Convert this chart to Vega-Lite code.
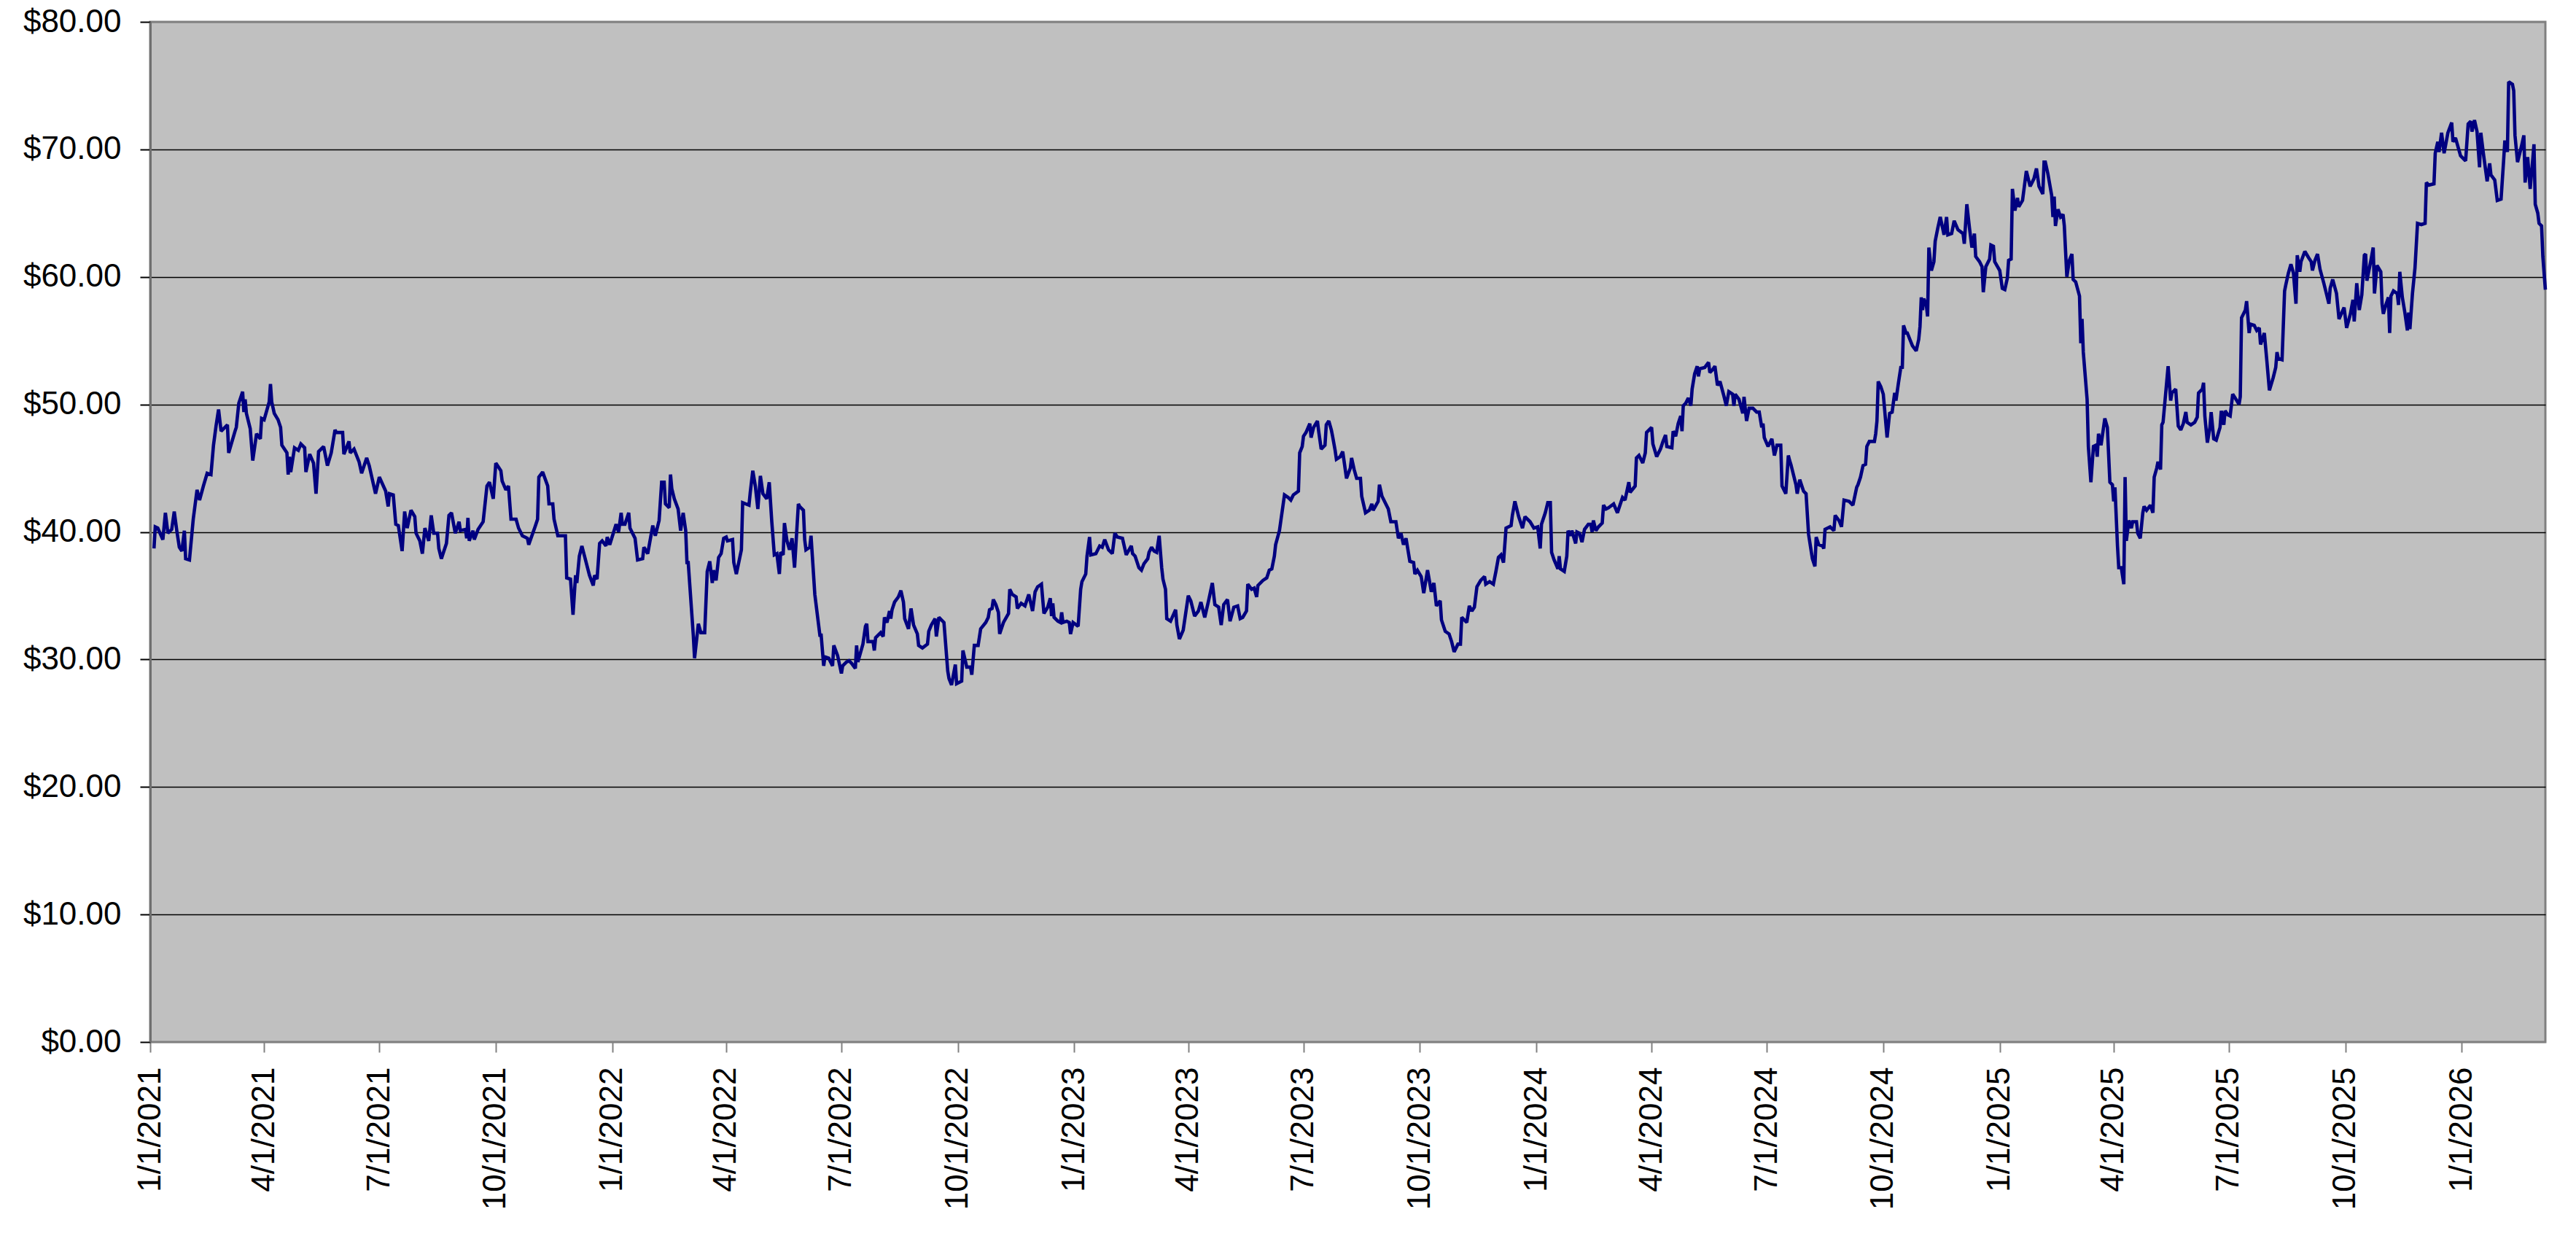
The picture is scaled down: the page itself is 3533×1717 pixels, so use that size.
{
  "$schema": "https://vega.github.io/schema/vega-lite/v6.json",
  "width": 3285,
  "height": 1399,
  "autosize": {"type": "none"},
  "padding": {"left": 206, "top": 30, "right": 42, "bottom": 288},
  "background": "white",
  "config": {
    "font": "Liberation Sans",
    "view": {"fill": "#C0C0C0", "stroke": "#808080", "strokeWidth": 3}
  },
  "data": {
    "values": [
      {"d": "2021-01-04", "v": 38.7}, {"d": "2021-01-05", "v": 40.4}, {"d": "2021-01-07", "v": 40.3}, {"d": "2021-01-11", "v": 39.4},
      {"d": "2021-01-13", "v": 41.5}, {"d": "2021-01-15", "v": 39.9}, {"d": "2021-01-18", "v": 40.2}, {"d": "2021-01-20", "v": 41.6},
      {"d": "2021-01-22", "v": 40.1}, {"d": "2021-01-24", "v": 38.8}, {"d": "2021-01-26", "v": 38.5}, {"d": "2021-01-28", "v": 40.1},
      {"d": "2021-01-29", "v": 37.9}, {"d": "2021-02-01", "v": 37.8}, {"d": "2021-02-04", "v": 41.0}, {"d": "2021-02-07", "v": 43.3},
      {"d": "2021-02-09", "v": 42.5}, {"d": "2021-02-12", "v": 43.6}, {"d": "2021-02-15", "v": 44.6}, {"d": "2021-02-18", "v": 44.5},
      {"d": "2021-02-20", "v": 46.8}, {"d": "2021-02-22", "v": 48.3}, {"d": "2021-02-24", "v": 49.6}, {"d": "2021-02-26", "v": 47.9},
      {"d": "2021-03-03", "v": 48.4}, {"d": "2021-03-04", "v": 46.2}, {"d": "2021-03-09", "v": 47.9}, {"d": "2021-03-10", "v": 48.2},
      {"d": "2021-03-12", "v": 50.1}, {"d": "2021-03-15", "v": 51.0}, {"d": "2021-03-16", "v": 49.4}, {"d": "2021-03-17", "v": 50.4},
      {"d": "2021-03-18", "v": 49.3}, {"d": "2021-03-21", "v": 48.1}, {"d": "2021-03-23", "v": 45.6}, {"d": "2021-03-26", "v": 47.7},
      {"d": "2021-03-29", "v": 47.3}, {"d": "2021-03-30", "v": 48.9}, {"d": "2021-04-01", "v": 48.8}, {"d": "2021-04-05", "v": 50.2},
      {"d": "2021-04-06", "v": 51.6}, {"d": "2021-04-07", "v": 50.2}, {"d": "2021-04-09", "v": 49.3}, {"d": "2021-04-12", "v": 48.8},
      {"d": "2021-04-14", "v": 48.2}, {"d": "2021-04-15", "v": 46.8}, {"d": "2021-04-19", "v": 46.2}, {"d": "2021-04-20", "v": 44.5},
      {"d": "2021-04-21", "v": 45.9}, {"d": "2021-04-22", "v": 44.7}, {"d": "2021-04-25", "v": 46.6}, {"d": "2021-04-28", "v": 46.4},
      {"d": "2021-04-30", "v": 46.9}, {"d": "2021-05-03", "v": 46.6}, {"d": "2021-05-04", "v": 44.7}, {"d": "2021-05-07", "v": 46.1},
      {"d": "2021-05-10", "v": 45.4}, {"d": "2021-05-12", "v": 43.0}, {"d": "2021-05-14", "v": 46.3}, {"d": "2021-05-18", "v": 46.7},
      {"d": "2021-05-21", "v": 45.2}, {"d": "2021-05-24", "v": 46.2}, {"d": "2021-05-27", "v": 48.0}, {"d": "2021-05-28", "v": 47.8},
      {"d": "2021-06-02", "v": 47.8}, {"d": "2021-06-03", "v": 46.1}, {"d": "2021-06-07", "v": 47.1}, {"d": "2021-06-08", "v": 46.2},
      {"d": "2021-06-11", "v": 46.5}, {"d": "2021-06-15", "v": 45.5}, {"d": "2021-06-17", "v": 44.6}, {"d": "2021-06-21", "v": 45.8},
      {"d": "2021-06-23", "v": 45.2}, {"d": "2021-06-28", "v": 43.0}, {"d": "2021-07-01", "v": 44.3}, {"d": "2021-07-06", "v": 43.2},
      {"d": "2021-07-08", "v": 42.0}, {"d": "2021-07-09", "v": 43.0}, {"d": "2021-07-12", "v": 42.9}, {"d": "2021-07-14", "v": 40.6},
      {"d": "2021-07-16", "v": 40.5}, {"d": "2021-07-19", "v": 38.5}, {"d": "2021-07-21", "v": 41.6}, {"d": "2021-07-23", "v": 40.3},
      {"d": "2021-07-26", "v": 41.7}, {"d": "2021-07-29", "v": 41.2}, {"d": "2021-07-30", "v": 39.9}, {"d": "2021-08-02", "v": 39.3},
      {"d": "2021-08-04", "v": 38.3}, {"d": "2021-08-06", "v": 40.3}, {"d": "2021-08-09", "v": 39.3}, {"d": "2021-08-11", "v": 41.3},
      {"d": "2021-08-13", "v": 39.9}, {"d": "2021-08-16", "v": 39.9}, {"d": "2021-08-17", "v": 38.7}, {"d": "2021-08-19", "v": 37.9},
      {"d": "2021-08-23", "v": 39.1}, {"d": "2021-08-25", "v": 41.3}, {"d": "2021-08-27", "v": 41.5}, {"d": "2021-08-30", "v": 39.9},
      {"d": "2021-09-02", "v": 40.8}, {"d": "2021-09-03", "v": 40.1}, {"d": "2021-09-07", "v": 40.2}, {"d": "2021-09-08", "v": 39.5},
      {"d": "2021-09-09", "v": 41.1}, {"d": "2021-09-10", "v": 39.3}, {"d": "2021-09-13", "v": 40.1}, {"d": "2021-09-14", "v": 39.4},
      {"d": "2021-09-17", "v": 40.2}, {"d": "2021-09-21", "v": 40.8}, {"d": "2021-09-24", "v": 43.6}, {"d": "2021-09-26", "v": 43.9},
      {"d": "2021-09-29", "v": 42.6}, {"d": "2021-10-01", "v": 45.4}, {"d": "2021-10-05", "v": 44.8}, {"d": "2021-10-06", "v": 44.0},
      {"d": "2021-10-09", "v": 43.3}, {"d": "2021-10-11", "v": 43.6}, {"d": "2021-10-13", "v": 41.0}, {"d": "2021-10-17", "v": 41.0},
      {"d": "2021-10-19", "v": 40.3}, {"d": "2021-10-22", "v": 39.7}, {"d": "2021-10-26", "v": 39.5}, {"d": "2021-10-27", "v": 39.0},
      {"d": "2021-11-01", "v": 40.4}, {"d": "2021-11-03", "v": 41.0}, {"d": "2021-11-04", "v": 44.3}, {"d": "2021-11-07", "v": 44.7},
      {"d": "2021-11-11", "v": 43.6}, {"d": "2021-11-12", "v": 42.2}, {"d": "2021-11-15", "v": 42.2}, {"d": "2021-11-16", "v": 41.0},
      {"d": "2021-11-19", "v": 39.7}, {"d": "2021-11-23", "v": 39.7}, {"d": "2021-11-25", "v": 39.7}, {"d": "2021-11-26", "v": 36.4},
      {"d": "2021-11-29", "v": 36.3}, {"d": "2021-12-01", "v": 33.5}, {"d": "2021-12-03", "v": 36.6}, {"d": "2021-12-04", "v": 36.0},
      {"d": "2021-12-06", "v": 38.1}, {"d": "2021-12-08", "v": 38.9}, {"d": "2021-12-14", "v": 36.6}, {"d": "2021-12-17", "v": 35.8},
      {"d": "2021-12-18", "v": 36.6}, {"d": "2021-12-20", "v": 36.3}, {"d": "2021-12-22", "v": 39.1}, {"d": "2021-12-24", "v": 39.3},
      {"d": "2021-12-27", "v": 38.9}, {"d": "2021-12-28", "v": 39.6}, {"d": "2021-12-30", "v": 39.0},
      {"d": "2022-01-04", "v": 40.6}, {"d": "2022-01-06", "v": 40.0}, {"d": "2022-01-08", "v": 41.5}, {"d": "2022-01-09", "v": 40.6},
      {"d": "2022-01-11", "v": 40.6}, {"d": "2022-01-14", "v": 41.5}, {"d": "2022-01-15", "v": 40.3}, {"d": "2022-01-19", "v": 39.5},
      {"d": "2022-01-21", "v": 37.8}, {"d": "2022-01-25", "v": 37.9}, {"d": "2022-01-26", "v": 38.8}, {"d": "2022-01-29", "v": 38.3},
      {"d": "2022-02-02", "v": 40.5}, {"d": "2022-02-04", "v": 39.7}, {"d": "2022-02-07", "v": 40.9}, {"d": "2022-02-09", "v": 43.9},
      {"d": "2022-02-11", "v": 43.9}, {"d": "2022-02-12", "v": 42.2}, {"d": "2022-02-15", "v": 41.9}, {"d": "2022-02-16", "v": 44.5},
      {"d": "2022-02-17", "v": 43.4}, {"d": "2022-02-19", "v": 42.6}, {"d": "2022-02-22", "v": 41.8}, {"d": "2022-02-24", "v": 40.1},
      {"d": "2022-02-26", "v": 41.5}, {"d": "2022-02-28", "v": 40.1}, {"d": "2022-03-01", "v": 37.6}, {"d": "2022-03-02", "v": 37.6},
      {"d": "2022-03-06", "v": 31.9}, {"d": "2022-03-07", "v": 30.1}, {"d": "2022-03-10", "v": 32.8}, {"d": "2022-03-12", "v": 32.1},
      {"d": "2022-03-15", "v": 32.1}, {"d": "2022-03-17", "v": 36.9}, {"d": "2022-03-19", "v": 37.7}, {"d": "2022-03-21", "v": 36.0},
      {"d": "2022-03-22", "v": 37.0}, {"d": "2022-03-24", "v": 36.2}, {"d": "2022-03-26", "v": 38.0}, {"d": "2022-03-28", "v": 38.3},
      {"d": "2022-03-30", "v": 39.5}, {"d": "2022-04-01", "v": 39.6}, {"d": "2022-04-02", "v": 39.3}, {"d": "2022-04-06", "v": 39.4},
      {"d": "2022-04-07", "v": 37.6}, {"d": "2022-04-09", "v": 36.7}, {"d": "2022-04-13", "v": 38.6}, {"d": "2022-04-14", "v": 42.3},
      {"d": "2022-04-19", "v": 42.1}, {"d": "2022-04-20", "v": 43.1}, {"d": "2022-04-22", "v": 44.8}, {"d": "2022-04-24", "v": 43.6},
      {"d": "2022-04-26", "v": 41.8}, {"d": "2022-04-28", "v": 44.4}, {"d": "2022-04-30", "v": 43.0}, {"d": "2022-05-03", "v": 42.6},
      {"d": "2022-05-05", "v": 43.9}, {"d": "2022-05-07", "v": 40.8}, {"d": "2022-05-09", "v": 38.2}, {"d": "2022-05-11", "v": 38.3},
      {"d": "2022-05-13", "v": 36.7}, {"d": "2022-05-14", "v": 38.4}, {"d": "2022-05-16", "v": 38.2}, {"d": "2022-05-17", "v": 40.7},
      {"d": "2022-05-19", "v": 39.3}, {"d": "2022-05-21", "v": 38.6}, {"d": "2022-05-23", "v": 39.5}, {"d": "2022-05-25", "v": 37.2},
      {"d": "2022-05-28", "v": 42.2}, {"d": "2022-05-29", "v": 42.0}, {"d": "2022-06-01", "v": 41.7}, {"d": "2022-06-02", "v": 39.4},
      {"d": "2022-06-03", "v": 38.6}, {"d": "2022-06-06", "v": 38.8}, {"d": "2022-06-07", "v": 39.7}, {"d": "2022-06-10", "v": 35.1},
      {"d": "2022-06-14", "v": 31.9}, {"d": "2022-06-15", "v": 31.9}, {"d": "2022-06-17", "v": 29.5}, {"d": "2022-06-18", "v": 30.2},
      {"d": "2022-06-21", "v": 30.1}, {"d": "2022-06-24", "v": 29.5}, {"d": "2022-06-25", "v": 31.1}, {"d": "2022-06-28", "v": 30.3},
      {"d": "2022-07-01", "v": 28.9}, {"d": "2022-07-02", "v": 29.5}, {"d": "2022-07-05", "v": 29.8}, {"d": "2022-07-07", "v": 29.9},
      {"d": "2022-07-09", "v": 29.7}, {"d": "2022-07-12", "v": 29.3}, {"d": "2022-07-13", "v": 31.1}, {"d": "2022-07-14", "v": 29.8},
      {"d": "2022-07-18", "v": 31.2}, {"d": "2022-07-20", "v": 32.6}, {"d": "2022-07-21", "v": 32.8}, {"d": "2022-07-22", "v": 31.4},
      {"d": "2022-07-26", "v": 31.4}, {"d": "2022-07-27", "v": 30.7}, {"d": "2022-07-28", "v": 31.7}, {"d": "2022-08-01", "v": 32.1},
      {"d": "2022-08-03", "v": 31.8}, {"d": "2022-08-04", "v": 33.3}, {"d": "2022-08-06", "v": 32.9}, {"d": "2022-08-08", "v": 33.8},
      {"d": "2022-08-09", "v": 33.2}, {"d": "2022-08-10", "v": 33.9}, {"d": "2022-08-12", "v": 34.5}, {"d": "2022-08-15", "v": 34.9},
      {"d": "2022-08-17", "v": 35.4}, {"d": "2022-08-19", "v": 34.5}, {"d": "2022-08-20", "v": 33.2}, {"d": "2022-08-23", "v": 32.4},
      {"d": "2022-08-25", "v": 34.0}, {"d": "2022-08-27", "v": 32.7}, {"d": "2022-08-30", "v": 32.0}, {"d": "2022-08-31", "v": 31.1},
      {"d": "2022-09-03", "v": 30.9}, {"d": "2022-09-07", "v": 31.2}, {"d": "2022-09-08", "v": 32.2}, {"d": "2022-09-10", "v": 32.7},
      {"d": "2022-09-13", "v": 33.2}, {"d": "2022-09-14", "v": 31.8}, {"d": "2022-09-16", "v": 33.3}, {"d": "2022-09-20", "v": 32.9},
      {"d": "2022-09-23", "v": 29.1}, {"d": "2022-09-24", "v": 28.5}, {"d": "2022-09-26", "v": 28.0}, {"d": "2022-09-29", "v": 29.6},
      {"d": "2022-09-30", "v": 28.1}, {"d": "2022-10-04", "v": 28.3}, {"d": "2022-10-05", "v": 30.7}, {"d": "2022-10-08", "v": 29.4},
      {"d": "2022-10-11", "v": 29.4}, {"d": "2022-10-12", "v": 28.8}, {"d": "2022-10-14", "v": 31.1}, {"d": "2022-10-17", "v": 31.1},
      {"d": "2022-10-19", "v": 32.4}, {"d": "2022-10-23", "v": 32.9}, {"d": "2022-10-25", "v": 33.3}, {"d": "2022-10-26", "v": 33.9},
      {"d": "2022-10-28", "v": 34.0}, {"d": "2022-10-29", "v": 34.7}, {"d": "2022-10-31", "v": 34.3}, {"d": "2022-11-02", "v": 33.7},
      {"d": "2022-11-03", "v": 32.0}, {"d": "2022-11-06", "v": 32.9}, {"d": "2022-11-10", "v": 33.6}, {"d": "2022-11-11", "v": 35.5},
      {"d": "2022-11-13", "v": 35.1}, {"d": "2022-11-16", "v": 34.9}, {"d": "2022-11-17", "v": 34.0}, {"d": "2022-11-20", "v": 34.4},
      {"d": "2022-11-23", "v": 34.2}, {"d": "2022-11-26", "v": 35.1}, {"d": "2022-11-29", "v": 33.8}, {"d": "2022-12-01", "v": 35.3},
      {"d": "2022-12-03", "v": 35.7}, {"d": "2022-12-06", "v": 35.9}, {"d": "2022-12-08", "v": 33.6}, {"d": "2022-12-11", "v": 34.1},
      {"d": "2022-12-13", "v": 34.8}, {"d": "2022-12-14", "v": 33.4}, {"d": "2022-12-15", "v": 34.4}, {"d": "2022-12-16", "v": 33.3},
      {"d": "2022-12-19", "v": 33.0}, {"d": "2022-12-21", "v": 32.9}, {"d": "2022-12-22", "v": 33.7}, {"d": "2022-12-23", "v": 32.9},
      {"d": "2022-12-26", "v": 33.0}, {"d": "2022-12-28", "v": 32.9}, {"d": "2022-12-29", "v": 32.0}, {"d": "2022-12-31", "v": 32.9},
      {"d": "2023-01-04", "v": 32.6}, {"d": "2023-01-06", "v": 35.5}, {"d": "2023-01-07", "v": 36.1}, {"d": "2023-01-10", "v": 36.7},
      {"d": "2023-01-11", "v": 38.1}, {"d": "2023-01-13", "v": 39.6}, {"d": "2023-01-14", "v": 38.2}, {"d": "2023-01-18", "v": 38.3},
      {"d": "2023-01-21", "v": 38.9}, {"d": "2023-01-23", "v": 38.8}, {"d": "2023-01-25", "v": 39.4}, {"d": "2023-01-28", "v": 38.6},
      {"d": "2023-01-31", "v": 38.3}, {"d": "2023-02-02", "v": 39.9}, {"d": "2023-02-04", "v": 39.6}, {"d": "2023-02-08", "v": 39.5},
      {"d": "2023-02-11", "v": 38.2}, {"d": "2023-02-15", "v": 38.9}, {"d": "2023-02-16", "v": 38.3}, {"d": "2023-02-18", "v": 38.1},
      {"d": "2023-02-21", "v": 37.2}, {"d": "2023-02-23", "v": 37.0}, {"d": "2023-02-25", "v": 37.5}, {"d": "2023-02-28", "v": 37.9},
      {"d": "2023-03-01", "v": 38.4}, {"d": "2023-03-03", "v": 38.8}, {"d": "2023-03-05", "v": 38.5}, {"d": "2023-03-07", "v": 38.4},
      {"d": "2023-03-09", "v": 39.7}, {"d": "2023-03-11", "v": 37.2}, {"d": "2023-03-12", "v": 36.3}, {"d": "2023-03-14", "v": 35.5},
      {"d": "2023-03-15", "v": 33.2}, {"d": "2023-03-18", "v": 33.0}, {"d": "2023-03-22", "v": 33.9}, {"d": "2023-03-23", "v": 32.7},
      {"d": "2023-03-25", "v": 31.6}, {"d": "2023-03-28", "v": 32.3}, {"d": "2023-04-01", "v": 35.0}, {"d": "2023-04-03", "v": 34.6},
      {"d": "2023-04-06", "v": 33.4}, {"d": "2023-04-09", "v": 33.8}, {"d": "2023-04-11", "v": 34.5}, {"d": "2023-04-14", "v": 33.3},
      {"d": "2023-04-17", "v": 34.6}, {"d": "2023-04-20", "v": 36.0}, {"d": "2023-04-22", "v": 34.3}, {"d": "2023-04-25", "v": 34.1},
      {"d": "2023-04-27", "v": 32.7}, {"d": "2023-04-29", "v": 34.3}, {"d": "2023-05-02", "v": 34.7}, {"d": "2023-05-04", "v": 33.0},
      {"d": "2023-05-07", "v": 34.1}, {"d": "2023-05-10", "v": 34.2}, {"d": "2023-05-12", "v": 33.2}, {"d": "2023-05-14", "v": 33.3},
      {"d": "2023-05-17", "v": 33.8}, {"d": "2023-05-18", "v": 35.9}, {"d": "2023-05-21", "v": 35.5}, {"d": "2023-05-23", "v": 35.6},
      {"d": "2023-05-25", "v": 34.9}, {"d": "2023-05-26", "v": 35.8}, {"d": "2023-05-30", "v": 36.2}, {"d": "2023-06-02", "v": 36.4},
      {"d": "2023-06-04", "v": 37.0}, {"d": "2023-06-06", "v": 37.1}, {"d": "2023-06-08", "v": 38.1}, {"d": "2023-06-09", "v": 39.0},
      {"d": "2023-06-12", "v": 40.1}, {"d": "2023-06-14", "v": 41.5}, {"d": "2023-06-16", "v": 42.9}, {"d": "2023-06-19", "v": 42.7},
      {"d": "2023-06-21", "v": 42.5}, {"d": "2023-06-23", "v": 42.9}, {"d": "2023-06-27", "v": 43.2}, {"d": "2023-06-28", "v": 46.2},
      {"d": "2023-06-30", "v": 46.7}, {"d": "2023-07-01", "v": 47.5}, {"d": "2023-07-03", "v": 47.8}, {"d": "2023-07-06", "v": 48.5},
      {"d": "2023-07-07", "v": 47.4}, {"d": "2023-07-09", "v": 48.2}, {"d": "2023-07-12", "v": 48.7}, {"d": "2023-07-13", "v": 47.9},
      {"d": "2023-07-15", "v": 46.5}, {"d": "2023-07-18", "v": 46.8}, {"d": "2023-07-19", "v": 48.4}, {"d": "2023-07-21", "v": 48.7},
      {"d": "2023-07-23", "v": 48.0}, {"d": "2023-07-24", "v": 47.5}, {"d": "2023-07-26", "v": 46.4}, {"d": "2023-07-27", "v": 45.7},
      {"d": "2023-07-30", "v": 45.9}, {"d": "2023-08-01", "v": 46.3}, {"d": "2023-08-04", "v": 44.2}, {"d": "2023-08-07", "v": 45.0},
      {"d": "2023-08-08", "v": 45.8}, {"d": "2023-08-10", "v": 44.9}, {"d": "2023-08-12", "v": 44.2}, {"d": "2023-08-15", "v": 44.2},
      {"d": "2023-08-16", "v": 42.8}, {"d": "2023-08-19", "v": 41.5}, {"d": "2023-08-22", "v": 41.7}, {"d": "2023-08-24", "v": 42.2},
      {"d": "2023-08-25", "v": 41.7}, {"d": "2023-08-29", "v": 42.4}, {"d": "2023-08-30", "v": 43.7}, {"d": "2023-09-01", "v": 42.8},
      {"d": "2023-09-06", "v": 41.8}, {"d": "2023-09-08", "v": 40.8}, {"d": "2023-09-12", "v": 40.8}, {"d": "2023-09-14", "v": 39.5},
      {"d": "2023-09-16", "v": 39.9}, {"d": "2023-09-18", "v": 39.0}, {"d": "2023-09-20", "v": 39.5}, {"d": "2023-09-23", "v": 37.7},
      {"d": "2023-09-26", "v": 37.6}, {"d": "2023-09-27", "v": 36.7}, {"d": "2023-09-29", "v": 37.0}, {"d": "2023-10-02", "v": 36.5},
      {"d": "2023-10-04", "v": 35.2}, {"d": "2023-10-07", "v": 37.0}, {"d": "2023-10-10", "v": 35.3}, {"d": "2023-10-12", "v": 36.0},
      {"d": "2023-10-14", "v": 34.2}, {"d": "2023-10-17", "v": 34.6}, {"d": "2023-10-18", "v": 33.1}, {"d": "2023-10-21", "v": 32.2},
      {"d": "2023-10-24", "v": 32.0}, {"d": "2023-10-26", "v": 31.4}, {"d": "2023-10-28", "v": 30.6}, {"d": "2023-10-31", "v": 31.2},
      {"d": "2023-11-02", "v": 31.2}, {"d": "2023-11-03", "v": 33.3}, {"d": "2023-11-05", "v": 33.1}, {"d": "2023-11-07", "v": 32.9},
      {"d": "2023-11-09", "v": 34.2}, {"d": "2023-11-11", "v": 33.8}, {"d": "2023-11-13", "v": 34.1}, {"d": "2023-11-15", "v": 35.7},
      {"d": "2023-11-18", "v": 36.2}, {"d": "2023-11-21", "v": 36.5}, {"d": "2023-11-22", "v": 35.9}, {"d": "2023-11-25", "v": 36.1},
      {"d": "2023-11-28", "v": 35.9}, {"d": "2023-11-30", "v": 36.9}, {"d": "2023-12-02", "v": 38.0}, {"d": "2023-12-04", "v": 38.2},
      {"d": "2023-12-06", "v": 37.6}, {"d": "2023-12-08", "v": 40.3}, {"d": "2023-12-12", "v": 40.5}, {"d": "2023-12-13", "v": 41.3},
      {"d": "2023-12-15", "v": 42.4}, {"d": "2023-12-18", "v": 41.2}, {"d": "2023-12-21", "v": 40.3}, {"d": "2023-12-23", "v": 41.2},
      {"d": "2023-12-27", "v": 40.8}, {"d": "2023-12-30", "v": 40.3},
      {"d": "2024-01-02", "v": 40.4}, {"d": "2024-01-04", "v": 38.7}, {"d": "2024-01-05", "v": 40.6}, {"d": "2024-01-08", "v": 41.5},
      {"d": "2024-01-10", "v": 42.3}, {"d": "2024-01-12", "v": 42.3}, {"d": "2024-01-13", "v": 38.4}, {"d": "2024-01-15", "v": 37.8},
      {"d": "2024-01-18", "v": 37.1}, {"d": "2024-01-19", "v": 38.1}, {"d": "2024-01-20", "v": 37.1}, {"d": "2024-01-23", "v": 36.9},
      {"d": "2024-01-25", "v": 38.1}, {"d": "2024-01-26", "v": 40.1}, {"d": "2024-01-28", "v": 39.7}, {"d": "2024-01-29", "v": 40.1},
      {"d": "2024-02-01", "v": 39.1}, {"d": "2024-02-02", "v": 40.0}, {"d": "2024-02-04", "v": 39.9}, {"d": "2024-02-06", "v": 39.2},
      {"d": "2024-02-08", "v": 40.2}, {"d": "2024-02-11", "v": 40.6}, {"d": "2024-02-13", "v": 40.6}, {"d": "2024-02-14", "v": 40.0},
      {"d": "2024-02-15", "v": 40.9}, {"d": "2024-02-17", "v": 40.1}, {"d": "2024-02-19", "v": 40.4}, {"d": "2024-02-22", "v": 40.7},
      {"d": "2024-02-23", "v": 42.1}, {"d": "2024-02-25", "v": 41.8}, {"d": "2024-02-27", "v": 41.9}, {"d": "2024-03-02", "v": 42.2},
      {"d": "2024-03-05", "v": 41.5}, {"d": "2024-03-09", "v": 42.7}, {"d": "2024-03-11", "v": 42.5}, {"d": "2024-03-14", "v": 43.9},
      {"d": "2024-03-15", "v": 43.1}, {"d": "2024-03-19", "v": 43.6}, {"d": "2024-03-20", "v": 45.8}, {"d": "2024-03-22", "v": 46.0},
      {"d": "2024-03-25", "v": 45.4}, {"d": "2024-03-27", "v": 46.2}, {"d": "2024-03-28", "v": 47.8}, {"d": "2024-04-01", "v": 48.2},
      {"d": "2024-04-02", "v": 46.9}, {"d": "2024-04-05", "v": 45.9}, {"d": "2024-04-08", "v": 46.5}, {"d": "2024-04-10", "v": 47.1},
      {"d": "2024-04-12", "v": 47.6}, {"d": "2024-04-13", "v": 46.7}, {"d": "2024-04-17", "v": 46.6}, {"d": "2024-04-18", "v": 47.9},
      {"d": "2024-04-20", "v": 47.5}, {"d": "2024-04-22", "v": 48.5}, {"d": "2024-04-24", "v": 49.1}, {"d": "2024-04-25", "v": 47.9},
      {"d": "2024-04-26", "v": 49.9}, {"d": "2024-04-28", "v": 50.1}, {"d": "2024-04-30", "v": 50.5}, {"d": "2024-05-02", "v": 49.9},
      {"d": "2024-05-03", "v": 51.2}, {"d": "2024-05-05", "v": 52.4}, {"d": "2024-05-07", "v": 53.0}, {"d": "2024-05-08", "v": 52.2},
      {"d": "2024-05-09", "v": 52.8}, {"d": "2024-05-13", "v": 52.9}, {"d": "2024-05-16", "v": 53.3}, {"d": "2024-05-17", "v": 52.5},
      {"d": "2024-05-19", "v": 52.7}, {"d": "2024-05-21", "v": 53.0}, {"d": "2024-05-23", "v": 51.5}, {"d": "2024-05-25", "v": 51.8},
      {"d": "2024-05-28", "v": 50.7}, {"d": "2024-05-30", "v": 49.9}, {"d": "2024-06-01", "v": 51.0}, {"d": "2024-06-04", "v": 50.8},
      {"d": "2024-06-05", "v": 49.9}, {"d": "2024-06-06", "v": 50.8}, {"d": "2024-06-09", "v": 50.4}, {"d": "2024-06-12", "v": 49.3},
      {"d": "2024-06-13", "v": 50.6}, {"d": "2024-06-15", "v": 48.7}, {"d": "2024-06-17", "v": 49.7}, {"d": "2024-06-20", "v": 49.7},
      {"d": "2024-06-23", "v": 49.4}, {"d": "2024-06-25", "v": 49.4}, {"d": "2024-06-27", "v": 48.2}, {"d": "2024-06-28", "v": 48.5},
      {"d": "2024-06-29", "v": 47.4}, {"d": "2024-07-02", "v": 46.7}, {"d": "2024-07-05", "v": 47.3}, {"d": "2024-07-07", "v": 46.0},
      {"d": "2024-07-09", "v": 46.8}, {"d": "2024-07-12", "v": 46.8}, {"d": "2024-07-13", "v": 43.6}, {"d": "2024-07-16", "v": 43.0},
      {"d": "2024-07-18", "v": 46.0}, {"d": "2024-07-19", "v": 45.6}, {"d": "2024-07-20", "v": 45.3}, {"d": "2024-07-24", "v": 43.7},
      {"d": "2024-07-25", "v": 43.0}, {"d": "2024-07-27", "v": 44.1}, {"d": "2024-07-30", "v": 43.2}, {"d": "2024-08-01", "v": 43.0},
      {"d": "2024-08-03", "v": 39.8}, {"d": "2024-08-06", "v": 37.9}, {"d": "2024-08-08", "v": 37.3}, {"d": "2024-08-09", "v": 39.6},
      {"d": "2024-08-11", "v": 39.0}, {"d": "2024-08-14", "v": 38.9}, {"d": "2024-08-15", "v": 38.7}, {"d": "2024-08-16", "v": 40.2},
      {"d": "2024-08-20", "v": 40.4}, {"d": "2024-08-23", "v": 40.1}, {"d": "2024-08-24", "v": 41.3}, {"d": "2024-08-27", "v": 40.9},
      {"d": "2024-08-29", "v": 40.4}, {"d": "2024-08-31", "v": 42.5}, {"d": "2024-09-04", "v": 42.4}, {"d": "2024-09-07", "v": 42.1},
      {"d": "2024-09-10", "v": 43.5}, {"d": "2024-09-11", "v": 43.7}, {"d": "2024-09-13", "v": 44.3}, {"d": "2024-09-15", "v": 45.2},
      {"d": "2024-09-17", "v": 45.3}, {"d": "2024-09-18", "v": 46.7}, {"d": "2024-09-20", "v": 47.1}, {"d": "2024-09-24", "v": 47.1},
      {"d": "2024-09-25", "v": 47.7}, {"d": "2024-09-26", "v": 48.7}, {"d": "2024-09-27", "v": 51.8}, {"d": "2024-09-29", "v": 51.4},
      {"d": "2024-10-01", "v": 50.8}, {"d": "2024-10-04", "v": 47.4}, {"d": "2024-10-06", "v": 49.3}, {"d": "2024-10-08", "v": 49.4},
      {"d": "2024-10-10", "v": 50.9}, {"d": "2024-10-11", "v": 50.3}, {"d": "2024-10-13", "v": 51.7}, {"d": "2024-10-15", "v": 53.0},
      {"d": "2024-10-16", "v": 52.8}, {"d": "2024-10-17", "v": 56.2}, {"d": "2024-10-19", "v": 55.6}, {"d": "2024-10-20", "v": 55.6},
      {"d": "2024-10-24", "v": 54.6}, {"d": "2024-10-27", "v": 54.2}, {"d": "2024-10-29", "v": 55.1}, {"d": "2024-10-30", "v": 56.1},
      {"d": "2024-10-31", "v": 58.4}, {"d": "2024-11-01", "v": 57.4}, {"d": "2024-11-02", "v": 58.3}, {"d": "2024-11-04", "v": 57.8},
      {"d": "2024-11-05", "v": 56.9}, {"d": "2024-11-06", "v": 62.3}, {"d": "2024-11-08", "v": 60.5}, {"d": "2024-11-10", "v": 61.2},
      {"d": "2024-11-11", "v": 62.8}, {"d": "2024-11-13", "v": 63.8}, {"d": "2024-11-15", "v": 64.7}, {"d": "2024-11-18", "v": 63.3},
      {"d": "2024-11-20", "v": 64.7}, {"d": "2024-11-21", "v": 63.3}, {"d": "2024-11-24", "v": 63.4}, {"d": "2024-11-26", "v": 64.4},
      {"d": "2024-11-29", "v": 63.7}, {"d": "2024-12-03", "v": 63.4}, {"d": "2024-12-04", "v": 62.6}, {"d": "2024-12-06", "v": 65.7},
      {"d": "2024-12-08", "v": 63.9}, {"d": "2024-12-10", "v": 62.3}, {"d": "2024-12-12", "v": 63.4}, {"d": "2024-12-13", "v": 61.6},
      {"d": "2024-12-16", "v": 61.2}, {"d": "2024-12-18", "v": 60.8}, {"d": "2024-12-19", "v": 58.8}, {"d": "2024-12-21", "v": 60.8},
      {"d": "2024-12-24", "v": 61.4}, {"d": "2024-12-25", "v": 62.5}, {"d": "2024-12-27", "v": 62.4}, {"d": "2024-12-28", "v": 61.2},
      {"d": "2025-01-01", "v": 60.5}, {"d": "2025-01-03", "v": 59.1}, {"d": "2025-01-05", "v": 59.0}, {"d": "2025-01-07", "v": 59.9},
      {"d": "2025-01-08", "v": 61.3}, {"d": "2025-01-10", "v": 61.4}, {"d": "2025-01-11", "v": 66.9}, {"d": "2025-01-13", "v": 65.2},
      {"d": "2025-01-15", "v": 66.2}, {"d": "2025-01-16", "v": 65.5}, {"d": "2025-01-19", "v": 66.0}, {"d": "2025-01-22", "v": 68.3},
      {"d": "2025-01-25", "v": 67.1}, {"d": "2025-01-28", "v": 67.7}, {"d": "2025-01-30", "v": 68.5}, {"d": "2025-02-01", "v": 67.1},
      {"d": "2025-02-04", "v": 66.5}, {"d": "2025-02-05", "v": 69.0}, {"d": "2025-02-06", "v": 69.0}, {"d": "2025-02-08", "v": 68.1},
      {"d": "2025-02-11", "v": 66.4}, {"d": "2025-02-12", "v": 64.7}, {"d": "2025-02-13", "v": 66.3}, {"d": "2025-02-14", "v": 64.0},
      {"d": "2025-02-16", "v": 65.3}, {"d": "2025-02-18", "v": 64.7}, {"d": "2025-02-20", "v": 64.9}, {"d": "2025-02-21", "v": 64.0},
      {"d": "2025-02-23", "v": 60.0}, {"d": "2025-02-25", "v": 61.3}, {"d": "2025-02-27", "v": 61.8}, {"d": "2025-02-28", "v": 59.8},
      {"d": "2025-03-02", "v": 59.6}, {"d": "2025-03-05", "v": 58.5}, {"d": "2025-03-06", "v": 54.8}, {"d": "2025-03-07", "v": 56.7},
      {"d": "2025-03-08", "v": 54.1}, {"d": "2025-03-11", "v": 50.4}, {"d": "2025-03-12", "v": 46.7}, {"d": "2025-03-14", "v": 43.9},
      {"d": "2025-03-16", "v": 46.7}, {"d": "2025-03-18", "v": 46.8}, {"d": "2025-03-19", "v": 45.9}, {"d": "2025-03-20", "v": 47.7},
      {"d": "2025-03-22", "v": 46.8}, {"d": "2025-03-25", "v": 48.9}, {"d": "2025-03-27", "v": 48.2}, {"d": "2025-03-29", "v": 43.9},
      {"d": "2025-03-31", "v": 43.7}, {"d": "2025-04-01", "v": 42.4}, {"d": "2025-04-02", "v": 43.5}, {"d": "2025-04-04", "v": 38.9},
      {"d": "2025-04-05", "v": 37.2}, {"d": "2025-04-07", "v": 37.2}, {"d": "2025-04-09", "v": 35.9}, {"d": "2025-04-10", "v": 44.3},
      {"d": "2025-04-11", "v": 39.3}, {"d": "2025-04-13", "v": 40.9}, {"d": "2025-04-15", "v": 40.3}, {"d": "2025-04-16", "v": 40.8},
      {"d": "2025-04-19", "v": 40.8}, {"d": "2025-04-20", "v": 39.9}, {"d": "2025-04-22", "v": 39.5}, {"d": "2025-04-24", "v": 41.5},
      {"d": "2025-04-25", "v": 42.0}, {"d": "2025-04-27", "v": 41.7}, {"d": "2025-04-30", "v": 42.1}, {"d": "2025-05-02", "v": 41.5},
      {"d": "2025-05-03", "v": 44.3}, {"d": "2025-05-05", "v": 45.0}, {"d": "2025-05-06", "v": 45.5}, {"d": "2025-05-08", "v": 44.9},
      {"d": "2025-05-09", "v": 48.4}, {"d": "2025-05-10", "v": 48.6}, {"d": "2025-05-12", "v": 50.8}, {"d": "2025-05-14", "v": 53.0},
      {"d": "2025-05-16", "v": 50.3}, {"d": "2025-05-17", "v": 50.9}, {"d": "2025-05-20", "v": 51.2}, {"d": "2025-05-22", "v": 48.3},
      {"d": "2025-05-24", "v": 48.0}, {"d": "2025-05-26", "v": 48.5}, {"d": "2025-05-28", "v": 49.4}, {"d": "2025-05-29", "v": 48.6},
      {"d": "2025-06-01", "v": 48.4}, {"d": "2025-06-04", "v": 48.6}, {"d": "2025-06-06", "v": 49.0}, {"d": "2025-06-07", "v": 50.9},
      {"d": "2025-06-10", "v": 51.2}, {"d": "2025-06-11", "v": 51.7}, {"d": "2025-06-12", "v": 49.1}, {"d": "2025-06-14", "v": 47.0},
      {"d": "2025-06-16", "v": 48.2}, {"d": "2025-06-17", "v": 49.4}, {"d": "2025-06-19", "v": 47.3}, {"d": "2025-06-21", "v": 47.2},
      {"d": "2025-06-24", "v": 48.2}, {"d": "2025-06-25", "v": 49.5}, {"d": "2025-06-27", "v": 48.4}, {"d": "2025-06-28", "v": 49.5},
      {"d": "2025-06-30", "v": 49.2}, {"d": "2025-07-02", "v": 49.1}, {"d": "2025-07-04", "v": 50.8}, {"d": "2025-07-06", "v": 50.5},
      {"d": "2025-07-09", "v": 50.0}, {"d": "2025-07-10", "v": 50.6}, {"d": "2025-07-11", "v": 56.8}, {"d": "2025-07-14", "v": 57.4},
      {"d": "2025-07-15", "v": 58.1}, {"d": "2025-07-17", "v": 55.6}, {"d": "2025-07-18", "v": 56.3}, {"d": "2025-07-21", "v": 56.2},
      {"d": "2025-07-23", "v": 55.8}, {"d": "2025-07-25", "v": 56.0}, {"d": "2025-07-26", "v": 54.7}, {"d": "2025-07-29", "v": 55.6},
      {"d": "2025-07-30", "v": 54.5}, {"d": "2025-07-31", "v": 53.4}, {"d": "2025-08-02", "v": 51.1}, {"d": "2025-08-05", "v": 52.1},
      {"d": "2025-08-07", "v": 52.9}, {"d": "2025-08-08", "v": 54.1}, {"d": "2025-08-09", "v": 53.6}, {"d": "2025-08-12", "v": 53.5},
      {"d": "2025-08-14", "v": 58.9}, {"d": "2025-08-15", "v": 59.4}, {"d": "2025-08-17", "v": 60.3}, {"d": "2025-08-19", "v": 61.0},
      {"d": "2025-08-21", "v": 60.3}, {"d": "2025-08-23", "v": 57.9}, {"d": "2025-08-24", "v": 61.7}, {"d": "2025-08-26", "v": 60.4},
      {"d": "2025-08-27", "v": 61.2}, {"d": "2025-08-30", "v": 62.0}, {"d": "2025-09-02", "v": 61.5}, {"d": "2025-09-04", "v": 61.2},
      {"d": "2025-09-05", "v": 60.5}, {"d": "2025-09-07", "v": 61.3}, {"d": "2025-09-09", "v": 61.8}, {"d": "2025-09-11", "v": 60.6},
      {"d": "2025-09-14", "v": 59.5}, {"d": "2025-09-18", "v": 57.9}, {"d": "2025-09-19", "v": 59.1}, {"d": "2025-09-21", "v": 59.8},
      {"d": "2025-09-24", "v": 58.7}, {"d": "2025-09-26", "v": 56.7}, {"d": "2025-09-30", "v": 57.6}, {"d": "2025-10-02", "v": 56.0},
      {"d": "2025-10-05", "v": 57.1}, {"d": "2025-10-07", "v": 58.2}, {"d": "2025-10-08", "v": 56.5}, {"d": "2025-10-10", "v": 59.5},
      {"d": "2025-10-12", "v": 57.4}, {"d": "2025-10-14", "v": 58.6}, {"d": "2025-10-16", "v": 61.7}, {"d": "2025-10-17", "v": 61.8},
      {"d": "2025-10-18", "v": 59.7}, {"d": "2025-10-21", "v": 61.2}, {"d": "2025-10-23", "v": 62.3}, {"d": "2025-10-24", "v": 58.7},
      {"d": "2025-10-26", "v": 60.9}, {"d": "2025-10-29", "v": 60.4}, {"d": "2025-10-30", "v": 57.9}, {"d": "2025-10-31", "v": 57.1},
      {"d": "2025-11-02", "v": 57.8}, {"d": "2025-11-04", "v": 58.4}, {"d": "2025-11-05", "v": 55.6}, {"d": "2025-11-06", "v": 58.5},
      {"d": "2025-11-08", "v": 58.9}, {"d": "2025-11-11", "v": 58.7}, {"d": "2025-11-12", "v": 57.8}, {"d": "2025-11-13", "v": 60.4},
      {"d": "2025-11-15", "v": 58.4}, {"d": "2025-11-17", "v": 57.2}, {"d": "2025-11-19", "v": 55.8}, {"d": "2025-11-20", "v": 57.2},
      {"d": "2025-11-21", "v": 55.9}, {"d": "2025-11-23", "v": 58.7}, {"d": "2025-11-25", "v": 60.7}, {"d": "2025-11-27", "v": 64.2},
      {"d": "2025-11-30", "v": 64.1}, {"d": "2025-12-03", "v": 64.2}, {"d": "2025-12-04", "v": 67.4}, {"d": "2025-12-06", "v": 67.2},
      {"d": "2025-12-10", "v": 67.3}, {"d": "2025-12-11", "v": 69.7}, {"d": "2025-12-13", "v": 70.6}, {"d": "2025-12-14", "v": 69.8},
      {"d": "2025-12-16", "v": 71.3}, {"d": "2025-12-18", "v": 69.7}, {"d": "2025-12-21", "v": 71.3}, {"d": "2025-12-24", "v": 72.1},
      {"d": "2025-12-25", "v": 70.6}, {"d": "2025-12-27", "v": 70.9}, {"d": "2025-12-31", "v": 69.5},
      {"d": "2026-01-02", "v": 69.3}, {"d": "2026-01-04", "v": 69.1}, {"d": "2026-01-06", "v": 72.0}, {"d": "2026-01-08", "v": 72.2},
      {"d": "2026-01-09", "v": 71.4}, {"d": "2026-01-11", "v": 72.3}, {"d": "2026-01-13", "v": 71.4}, {"d": "2026-01-15", "v": 68.6},
      {"d": "2026-01-16", "v": 71.3}, {"d": "2026-01-18", "v": 69.7}, {"d": "2026-01-21", "v": 67.5}, {"d": "2026-01-23", "v": 68.9},
      {"d": "2026-01-24", "v": 68.0}, {"d": "2026-01-27", "v": 67.6}, {"d": "2026-01-29", "v": 66.0}, {"d": "2026-02-01", "v": 66.1},
      {"d": "2026-02-03", "v": 69.1}, {"d": "2026-02-04", "v": 70.7}, {"d": "2026-02-06", "v": 69.8}, {"d": "2026-02-07", "v": 75.3},
      {"d": "2026-02-10", "v": 75.1}, {"d": "2026-02-11", "v": 74.6}, {"d": "2026-02-12", "v": 71.1}, {"d": "2026-02-14", "v": 69.0},
      {"d": "2026-02-17", "v": 70.2}, {"d": "2026-02-19", "v": 71.1}, {"d": "2026-02-20", "v": 67.4}, {"d": "2026-02-22", "v": 69.4},
      {"d": "2026-02-24", "v": 66.9}, {"d": "2026-02-26", "v": 69.2}, {"d": "2026-02-27", "v": 70.4}, {"d": "2026-02-28", "v": 65.7},
      {"d": "2026-03-02", "v": 65.0}, {"d": "2026-03-03", "v": 64.2}, {"d": "2026-03-05", "v": 64.0}, {"d": "2026-03-06", "v": 61.6},
      {"d": "2026-03-08", "v": 59.0}
    ]
  },
  "mark": {"type": "line", "color": "#000080", "strokeWidth": 4.6, "strokeJoin": "miter", "strokeMiterLimit": 2},
  "encoding": {
    "x": {
      "field": "d",
      "type": "temporal",
      "scale": {
        "type": "utc",
        "nice": false,
        "domain": [
          {"year": 2021, "month": 1, "date": 1, "utc": true},
          {"year": 2026, "month": 3, "date": 8, "utc": true}
        ]
      },
      "axis": {
        "title": null,
        "values": [
          {"year": 2021, "month": 1, "date": 1, "utc": true}, {"year": 2021, "month": 4, "date": 1, "utc": true},
          {"year": 2021, "month": 7, "date": 1, "utc": true}, {"year": 2021, "month": 10, "date": 1, "utc": true},
          {"year": 2022, "month": 1, "date": 1, "utc": true}, {"year": 2022, "month": 4, "date": 1, "utc": true},
          {"year": 2022, "month": 7, "date": 1, "utc": true}, {"year": 2022, "month": 10, "date": 1, "utc": true},
          {"year": 2023, "month": 1, "date": 1, "utc": true}, {"year": 2023, "month": 4, "date": 1, "utc": true},
          {"year": 2023, "month": 7, "date": 1, "utc": true}, {"year": 2023, "month": 10, "date": 1, "utc": true},
          {"year": 2024, "month": 1, "date": 1, "utc": true}, {"year": 2024, "month": 4, "date": 1, "utc": true},
          {"year": 2024, "month": 7, "date": 1, "utc": true}, {"year": 2024, "month": 10, "date": 1, "utc": true},
          {"year": 2025, "month": 1, "date": 1, "utc": true}, {"year": 2025, "month": 4, "date": 1, "utc": true},
          {"year": 2025, "month": 7, "date": 1, "utc": true}, {"year": 2025, "month": 10, "date": 1, "utc": true},
          {"year": 2026, "month": 1, "date": 1, "utc": true}
        ],
        "labelExpr": "utcFormat(datum.value, '%-m/%-d/%Y')",
        "labelAngle": 270,
        "labelFont": "Liberation Sans",
        "labelFontSize": 44,
        "labelColor": "#000000",
        "labelPadding": 20,
        "labelLimit": 0,
        "labelOverlap": false,
        "labelFlush": false,
        "tickSize": 14,
        "tickColor": "#808080",
        "tickWidth": 2,
        "grid": false,
        "domain": false
      }
    },
    "y": {
      "field": "v",
      "type": "quantitative",
      "scale": {"domain": [0, 80], "nice": false, "zero": true},
      "axis": {
        "title": null,
        "values": [0, 10, 20, 30, 40, 50, 60, 70, 80],
        "format": "$.2f",
        "labelFont": "Liberation Sans",
        "labelFontSize": 44,
        "labelColor": "#000000",
        "labelPadding": 26,
        "labelLimit": 0,
        "labelFlush": false,
        "tickSize": 14,
        "tickColor": "#000000",
        "tickWidth": 2,
        "grid": true,
        "gridColor": {"condition": {"test": "datum.value === 0 || datum.value === 80", "value": "#808080"}, "value": "#000000"},
        "gridWidth": 1.3,
        "domain": true,
        "domainColor": "#707070",
        "domainWidth": 3
      }
    }
  }
}
